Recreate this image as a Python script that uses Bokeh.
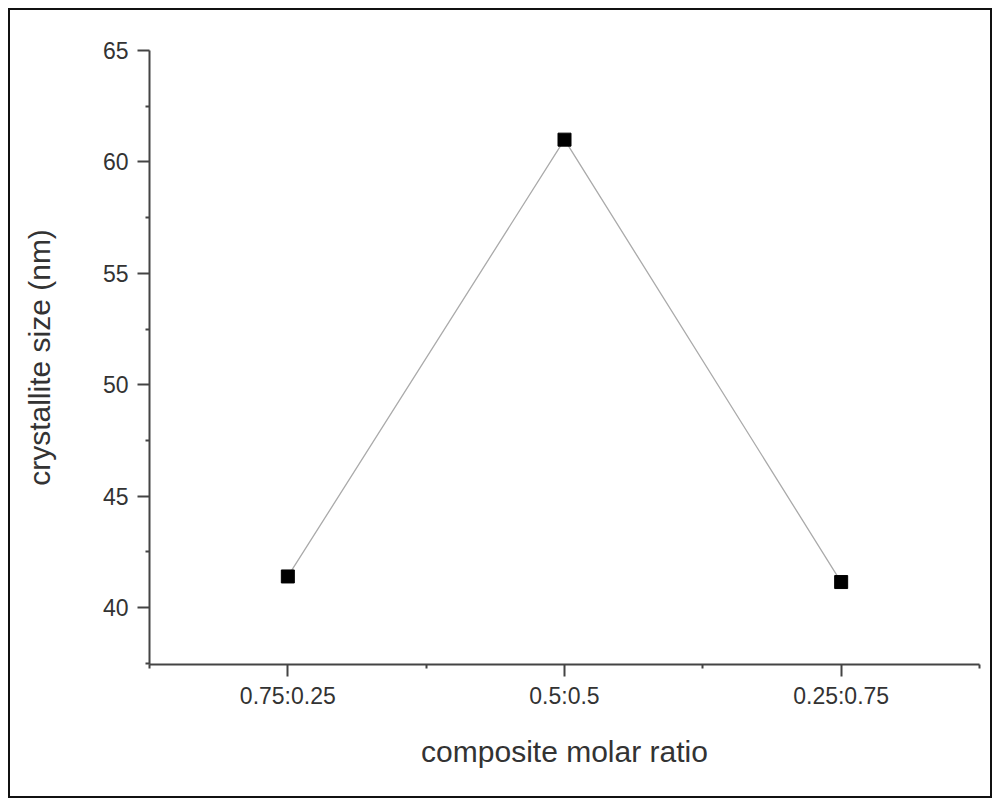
from bokeh.plotting import figure
from bokeh.models import FixedTicker, Range1d
from bokeh.embed import file_html
from bokeh.resources import INLINE

ratios = ["0.75:0.25", "0.5:0.5", "0.25:0.75"]
x_pos = [0, 1, 2]
crystallite_nm = [41.4, 61.0, 41.15]
y_ticks = [40, 45, 50, 55, 60, 65]

p = figure(width=984, height=790, output_backend="svg", toolbar_location=None,
           x_range=Range1d(-0.5, 2.5), y_range=Range1d(37.45, 65.0),
           min_border_left=139, min_border_right=15, min_border_top=40, min_border_bottom=136)
p.styles = {"margin-left": "8px", "margin-top": "8px", "border": "2px solid #111"}
p.outline_line_color = None
p.grid.visible = False
p.background_fill_color = "white"
p.border_fill_color = "white"

p.line(x_pos, crystallite_nm, line_color="#aaaaaa", line_width=1.3)
p.scatter(x_pos, crystallite_nm, marker="square", size=13, fill_color="black", line_color="black")

font = "Liberation Sans"
xa = p.xaxis[0]
xa.ticker = FixedTicker(ticks=x_pos, minor_ticks=[-0.5, 0.5, 1.5, 2.5])
xa.major_label_overrides = {i: r for i, r in zip(x_pos, ratios)}
ya = p.yaxis[0]
ya.ticker = FixedTicker(ticks=y_ticks, minor_ticks=[37.5, 42.5, 47.5, 52.5, 57.5, 62.5])

for ax in (xa, ya):
    ax.axis_line_width = 2
    ax.axis_line_color = "#444444"
    ax.major_tick_line_color = "#444444"
    ax.minor_tick_line_color = "#444444"
    ax.major_tick_line_width = 2
    ax.minor_tick_line_width = 2
    ax.major_tick_in = 0
    ax.minor_tick_in = 0
    ax.major_tick_out = 12
    ax.minor_tick_out = 4
    ax.major_label_text_font = font
    ax.major_label_text_color = "#333333"
    ax.axis_label_text_font = font
    ax.axis_label_text_font_size = "30px"
    ax.axis_label_text_font_style = "normal"
    ax.axis_label_text_color = "#333333"

xa.major_label_text_font_size = "23px"
ya.major_label_text_font_size = "23px"
xa.axis_label = "composite molar ratio"
ya.axis_label = "crystallite size (nm)"
xa.major_label_standoff = 6
xa.axis_label_standoff = 23
ya.major_label_standoff = 9
ya.axis_label_standoff = 44

open("out.html", "w").write(file_html(p, INLINE))
